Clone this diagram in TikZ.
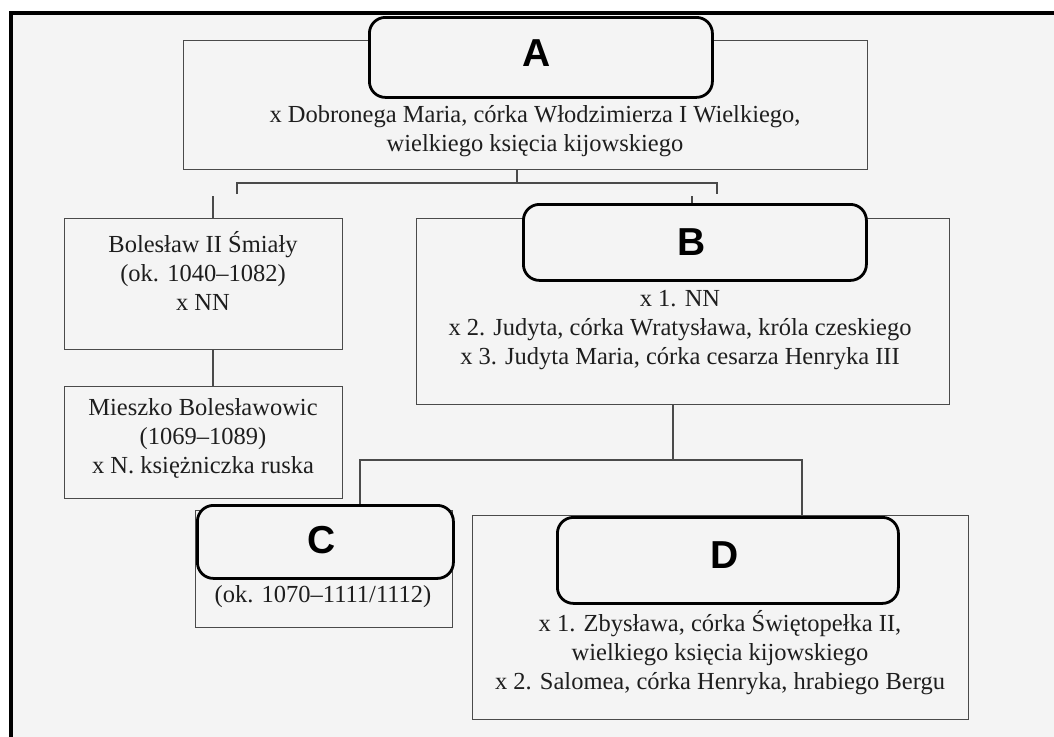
\documentclass[tikz,border=0pt]{standalone}
\usepackage{fontspec}
\setmainfont{Liberation Serif}
\newfontfamily\lettfont{Liberation Sans}
\definecolor{bg}{HTML}{F4F4F4}
\definecolor{ln}{HTML}{4A4A4A}
\definecolor{tx}{HTML}{1E1E1E}
\begin{document}
\begin{tikzpicture}[x=1pt,y=-1pt,
 box/.style={draw=ln, line width=1.3pt, fill=bg, inner sep=0pt, anchor=north west},
 lab/.style={draw=black, line width=2.8pt, rounded corners=16pt, fill=bg, inner sep=0pt, anchor=north west},
 letter/.style={font=\lettfont\bfseries\fontsize{39}{39}\selectfont, text=black, inner sep=0pt},
 txt/.style={align=center, text=tx, font=\fontsize{24.5}{29}\selectfont, inner sep=0pt},
 conn/.style={draw=ln, line width=1.3pt}]
\useasboundingbox (0,0) rectangle (1054,736);
\fill[white] (0,0) rectangle (1054,736);
\fill[bg] (11,13) rectangle (1062,748);
\draw[black, line width=4pt] (11,13) rectangle (1062,748);

% boxes
\node[box, minimum width=684pt, minimum height=129pt] (boxA) at (183,40) {};
\node[box, minimum width=278pt, minimum height=131pt] (boxBol) at (64,218) {};
\node[box, minimum width=278pt, minimum height=112pt] (boxMie) at (64,386) {};
\node[box, minimum width=533pt, minimum height=186pt] (boxB) at (416,218) {};
\node[box, minimum width=257pt, minimum height=117pt] (boxC) at (195,510) {};
\node[box, minimum width=496pt, minimum height=204pt] (boxD) at (472,515) {};

% connector points
\coordinate (a0) at (517,169);
\coordinate (a1) at (517,183);
\coordinate (hl) at (237,183);
\coordinate (hr) at (717,183);
\coordinate (tl) at (237,194);
\coordinate (tr) at (717,194);
\coordinate (v1a) at (213,196);
\coordinate (v1b) at (213,218);
\coordinate (v2a) at (692,196);
\coordinate (v2b) at (692,204);
\coordinate (m0) at (213,349);
\coordinate (m1) at (213,386);
\coordinate (b0) at (673,404);
\coordinate (b1) at (673,460);
\coordinate (cl) at (360,460);
\coordinate (cr) at (802,460);
\coordinate (cl2) at (360,505);
\coordinate (cr2) at (802,516);

\draw[conn] (a0) -- (a1);
\draw[conn] (tl) -- (hl) -- (hr) -- (tr);
\draw[conn] (v1a) -- (v1b);
\draw[conn] (v2a) -- (v2b);
\draw[conn] (m0) -- (m1);
\draw[conn] (b0) -- (b1);
\draw[conn] (cl2) -- (cl) -- (cr) -- (cr2);

% rounded labels
\node[lab, minimum width=343pt, minimum height=80pt] (labA) at (368,16) {};
\node[lab, minimum width=343pt, minimum height=76pt] (labB) at (522,203) {};
\node[lab, minimum width=256pt, minimum height=73pt] (labC) at (196,504) {};
\node[lab, minimum width=341pt, minimum height=86pt] (labD) at (556,516) {};

\node[letter] (lA) at (537,53) {A};
\node[letter] (lB) at (692,242) {B};
\node[letter] (lC) at (322,540) {C};
\node[letter] (lD) at (725,555) {D};

% texts
\node[txt] (tA) at (535,131) {x Dobronega Maria, córka Włodzimierza I Wielkiego,\\wielkiego księcia kijowskiego};
\node[txt] (tBol) at (203,271) {Bolesław II Śmiały\\(ok. 1040–1082)\\x NN};
\node[txt] (tMie) at (203,438) {Mieszko Bolesławowic\\(1069–1089)\\x N. księżniczka ruska};
\node[txt] (tB) at (680,330) {x 1. NN\\x 2. Judyta, córka Wratysława, króla czeskiego\\x 3. Judyta Maria, córka cesarza Henryka III};
\node[txt] (tC) at (323,597) {(ok. 1070–1111/1112)};
\node[txt] (tD) at (720,653) {x 1. Zbysława, córka Świętopełka II,\\wielkiego księcia kijowskiego\\x 2. Salomea, córka Henryka, hrabiego Bergu};
\end{tikzpicture}
\end{document}
